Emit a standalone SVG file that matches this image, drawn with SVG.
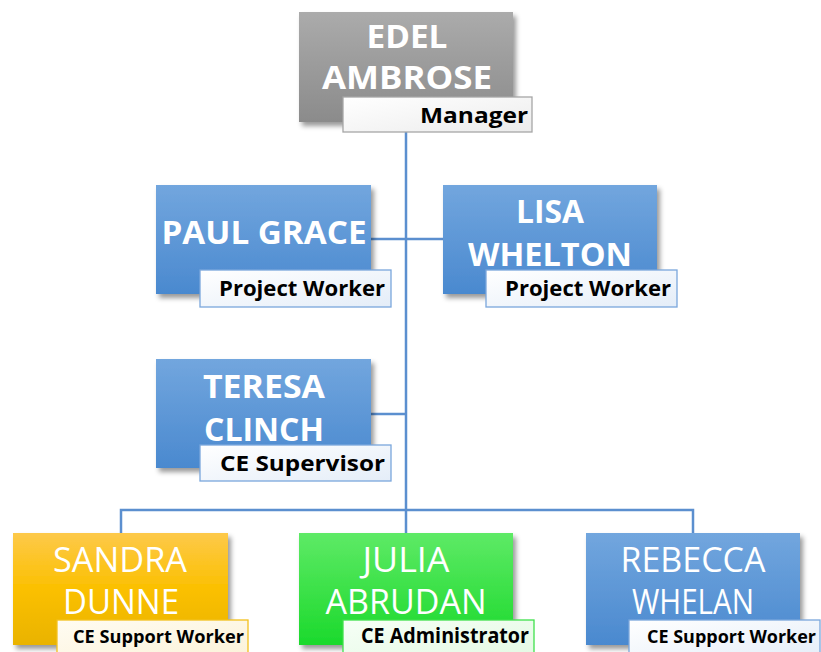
<svg xmlns="http://www.w3.org/2000/svg" width="821" height="652" viewBox="0 0 821 652">
  <defs>
    <linearGradient id="gGray" x1="0" y1="0" x2="0" y2="1">
      <stop offset="0" stop-color="#ababab"/>
      <stop offset="1" stop-color="#8b8b8b"/>
    </linearGradient>
    <linearGradient id="gBlue" x1="0" y1="0" x2="0" y2="1">
      <stop offset="0" stop-color="#72a6de"/>
      <stop offset="1" stop-color="#4a89cf"/>
    </linearGradient>
    <linearGradient id="gGold" x1="0" y1="0" x2="0" y2="1">
      <stop offset="0" stop-color="#fdc94a"/>
      <stop offset="0.5" stop-color="#fbc000"/>
      <stop offset="1" stop-color="#e9b300"/>
    </linearGradient>
    <linearGradient id="gGreen" x1="0" y1="0" x2="0" y2="1">
      <stop offset="0" stop-color="#5eea66"/>
      <stop offset="1" stop-color="#1bd92c"/>
    </linearGradient>
    <linearGradient id="lGray" x1="0" y1="0" x2="1" y2="1">
      <stop offset="0" stop-color="#ffffff"/>
      <stop offset="1" stop-color="#ececec"/>
    </linearGradient>
    <linearGradient id="lBlue" x1="0" y1="0" x2="1" y2="1">
      <stop offset="0" stop-color="#ffffff"/>
      <stop offset="1" stop-color="#e4edf8"/>
    </linearGradient>
    <linearGradient id="lGold" x1="0" y1="0" x2="1" y2="1">
      <stop offset="0" stop-color="#fffcf2"/>
      <stop offset="1" stop-color="#fbf2d8"/>
    </linearGradient>
    <linearGradient id="lGreen" x1="0" y1="0" x2="1" y2="1">
      <stop offset="0" stop-color="#f6fff6"/>
      <stop offset="1" stop-color="#e3f9e3"/>
    </linearGradient>
    <filter id="shadow" x="-10%" y="-10%" width="125%" height="130%">
      <feDropShadow dx="3" dy="4" stdDeviation="2.5" flood-color="#000" flood-opacity="0.4"/>
    </filter>
  </defs>
  <style>
    .name { font-family: "Open Sans", "Liberation Sans", sans-serif; font-weight: bold; font-size: 33px; fill: #ffffff; text-anchor: middle; }
    .name2 { font-family: "Open Sans", "Liberation Sans", sans-serif; font-weight: normal; font-size: 34px; fill: #ffffff; text-anchor: middle; }
    .role { font-family: "Open Sans", "Liberation Sans", sans-serif; font-weight: bold; font-size: 21px; fill: #000000; text-anchor: end; }
    .role-s { font-family: "Open Sans", "Liberation Sans", sans-serif; font-weight: bold; font-size: 17px; fill: #000000; text-anchor: end; }
    .conn { fill: none; stroke: #5b8fcf; stroke-width: 2.5; }
    .lb-gray { fill: url(#lGray); stroke: #a6a6a6; stroke-width: 1.3; }
    .lb-blue { fill: url(#lBlue); stroke: #7aa7dc; stroke-width: 1.3; }
    .lb-gold { fill: url(#lGold); stroke: #f3c01c; stroke-width: 1.3; }
    .lb-green { fill: url(#lGreen); stroke: #3fe04c; stroke-width: 1.3; }
  </style>

  <rect width="821" height="652" fill="#ffffff"/>

  <!-- connectors -->
  <g id="connectors">
    <line class="conn" x1="406" y1="122" x2="406" y2="510"/>
    <line class="conn" x1="371" y1="239" x2="443" y2="239"/>
    <line class="conn" x1="371" y1="414" x2="406" y2="414"/>
    <polyline class="conn" points="121,533 121,510 693,510 693,533"/>
    <line class="conn" x1="406" y1="510" x2="406" y2="533"/>
  </g>

  <!-- manager -->
  <g id="edel-ambrose">
    <rect x="299" y="12" width="214" height="110" fill="url(#gGray)" filter="url(#shadow)"/>
    <text class="name" x="407" y="48" textLength="81" lengthAdjust="spacingAndGlyphs">EDEL</text>
    <text class="name" x="407" y="89" textLength="170" lengthAdjust="spacingAndGlyphs">AMBROSE</text>
    <rect class="lb-gray" x="343" y="97" width="189" height="35"/>
    <text class="role" x="528" y="123" textLength="108" lengthAdjust="spacingAndGlyphs">Manager</text>
  </g>

  <!-- project workers -->
  <g id="paul-grace">
    <rect x="156" y="185" width="215" height="109" fill="url(#gBlue)" filter="url(#shadow)"/>
    <text class="name" x="264" y="244" textLength="205" lengthAdjust="spacingAndGlyphs">PAUL GRACE</text>
    <rect class="lb-blue" x="200" y="270" width="191" height="37"/>
    <text class="role" x="385" y="296" textLength="166" lengthAdjust="spacingAndGlyphs">Project Worker</text>
  </g>

  <g id="lisa-whelton">
    <rect x="443" y="185" width="214" height="109" fill="url(#gBlue)" filter="url(#shadow)"/>
    <text class="name" x="550" y="223" textLength="68" lengthAdjust="spacingAndGlyphs">LISA</text>
    <text class="name" x="550" y="266" textLength="164" lengthAdjust="spacingAndGlyphs">WHELTON</text>
    <rect class="lb-blue" x="486" y="270" width="191" height="37"/>
    <text class="role" x="671" y="296" textLength="166" lengthAdjust="spacingAndGlyphs">Project Worker</text>
  </g>

  <!-- supervisor -->
  <g id="teresa-clinch">
    <rect x="156" y="359" width="215" height="109" fill="url(#gBlue)" filter="url(#shadow)"/>
    <text class="name" x="264" y="398" textLength="122" lengthAdjust="spacingAndGlyphs">TERESA</text>
    <text class="name" x="264" y="441" textLength="120" lengthAdjust="spacingAndGlyphs">CLINCH</text>
    <rect class="lb-blue" x="200" y="445" width="191" height="36"/>
    <text class="role" x="385" y="471" textLength="165" lengthAdjust="spacingAndGlyphs">CE Supervisor</text>
  </g>

  <!-- CE team -->
  <g id="sandra-dunne">
    <rect x="13" y="533" width="215" height="112" fill="url(#gGold)" filter="url(#shadow)"/>
    <text class="name2" x="120" y="572" textLength="134" lengthAdjust="spacingAndGlyphs">SANDRA</text>
    <text class="name2" x="121" y="614" textLength="116" lengthAdjust="spacingAndGlyphs">DUNNE</text>
    <rect class="lb-gold" x="57" y="620" width="191" height="40"/>
    <text class="role-s" x="244" y="643" textLength="171" lengthAdjust="spacingAndGlyphs">CE Support Worker</text>
  </g>

  <g id="julia-abrudan">
    <rect x="299" y="533" width="214" height="112" fill="url(#gGreen)" filter="url(#shadow)"/>
    <text class="name2" x="406" y="572" textLength="87" lengthAdjust="spacingAndGlyphs">JULIA</text>
    <text class="name2" x="406" y="614" textLength="161" lengthAdjust="spacingAndGlyphs">ABRUDAN</text>
    <rect class="lb-green" x="343" y="620" width="191" height="40"/>
    <text class="role" x="529" y="643" textLength="168" lengthAdjust="spacingAndGlyphs">CE Administrator</text>
  </g>

  <g id="rebecca-whelan">
    <rect x="586" y="533" width="214" height="112" fill="url(#gBlue)" filter="url(#shadow)"/>
    <text class="name2" x="693" y="572" textLength="145" lengthAdjust="spacingAndGlyphs">REBECCA</text>
    <text class="name2" x="693" y="614" textLength="122" lengthAdjust="spacingAndGlyphs">WHELAN</text>
    <rect class="lb-blue" x="629" y="620" width="191" height="40"/>
    <text class="role-s" x="816" y="643" textLength="169" lengthAdjust="spacingAndGlyphs">CE Support Worker</text>
  </g>
</svg>
